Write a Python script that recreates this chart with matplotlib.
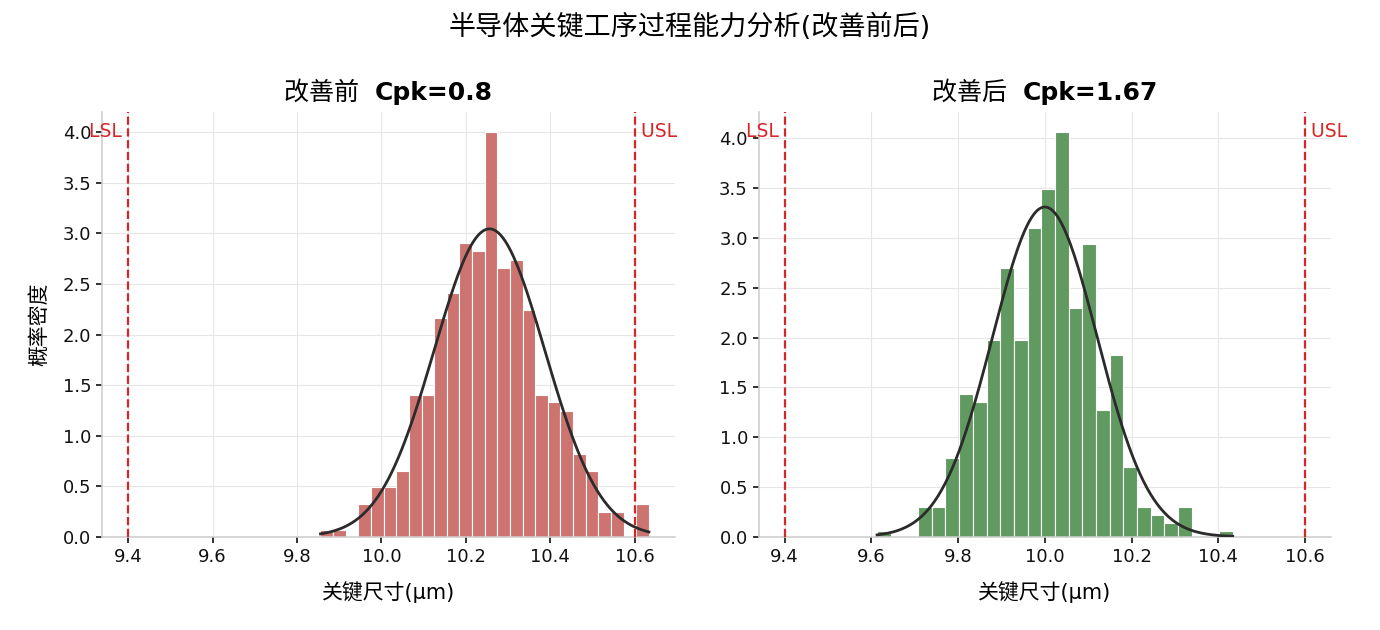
import numpy as np
import matplotlib
matplotlib.use("Agg")
import matplotlib.pyplot as plt

# Spec limits
LSL = 9.4
USL = 10.6

# Before improvement: histogram (density)
before_bin_start = 9.8555
before_bin_width = 0.02994
before_density = [0.07, 0.07, 0.00, 0.32, 0.49, 0.49, 0.65, 1.40, 1.40, 2.16,
                  2.41, 2.91, 2.83, 4.00, 2.66, 2.74, 2.24, 1.40, 1.33, 1.24,
                  0.82, 0.65, 0.24, 0.24, 0.00, 0.32]
before_mu, before_sigma = 10.256, 0.131
before_cpk = 0.8

# After improvement
after_bin_start = 9.613
after_bin_width = 0.03155
after_density = [0.06, 0.00, 0.00, 0.30, 0.30, 0.79, 1.43, 1.35, 1.98, 2.70,
                 1.98, 3.10, 3.49, 4.06, 2.30, 2.94, 1.27, 1.82, 0.70, 0.30,
                 0.22, 0.14, 0.30, 0.00, 0.00, 0.06]
after_mu, after_sigma = 10.0, 0.1205
after_cpk = 1.67

plt.rcParams.update({
    'font.family': ['DejaVu Sans', 'Noto Sans CJK SC'],
    'axes.unicode_minus': False,
    'axes.edgecolor': '#cccccc',
    'axes.linewidth': 1.1,
    'grid.color': '#e6e6e6',
    'grid.linewidth': 0.8,
    'xtick.color': '#222222',
    'ytick.color': '#222222',
    'xtick.labelcolor': '#111111',
    'ytick.labelcolor': '#111111',
    'xtick.major.size': 4.3,
    'ytick.major.size': 4.3,
    'xtick.major.width': 1.3,
    'ytick.major.width': 1.3,
    'xtick.labelsize': 13,
    'ytick.labelsize': 13,
})


def draw_panel(ax, start, width, dens, mu, sigma, cpk, label, color):
    dens = np.array(dens)
    edges = start + width * np.arange(len(dens) + 1)
    ax.bar(edges[:-1], dens, width=width, align='edge', color=color,
           edgecolor='white', linewidth=0.8, zorder=2)

    # fitted normal curve over the data range
    x = np.linspace(edges[0], edges[-1], 300)
    pdf = np.exp(-0.5 * ((x - mu) / sigma) ** 2) / (sigma * np.sqrt(2 * np.pi))
    ax.plot(x, pdf, color='#2b2b2b', lw=2.0, zorder=3)

    ax.axvline(LSL, color='#d62728', ls='--', lw=1.6, zorder=4)
    ax.axvline(USL, color='#d62728', ls='--', lw=1.6, zorder=4)

    lo = min(LSL, edges[0])
    hi = max(USL, edges[-1])
    pad = (hi - lo) * 0.05
    ax.set_xlim(lo - pad, hi + pad)
    ymax = dens.max() * 1.05
    ax.set_ylim(0, ymax)

    ax.text(LSL, ymax * 0.955, 'LSL ', color='#d62728', ha='right',
            va='center', fontsize=13.5)
    ax.text(USL, ymax * 0.955, ' USL', color='#d62728', ha='left',
            va='center', fontsize=13.5)

    ax.set_xticks([9.4, 9.6, 9.8, 10.0, 10.2, 10.4, 10.6])
    ax.set_yticks(np.arange(0, 4.01, 0.5))
    ax.yaxis.set_major_formatter(matplotlib.ticker.FormatStrFormatter('%.1f'))
    ax.grid(True, zorder=0)
    ax.set_axisbelow(True)
    for s in ('top', 'right'):
        ax.spines[s].set_visible(False)

    # title: Chinese part regular, Cpk part bold, centred together
    t1 = ax.text(0, 0, label + '  ', fontsize=18, transform=ax.transAxes)
    t2 = ax.annotate(f'Cpk={cpk}', xy=(1, 0), xycoords=t1, fontsize=18,
                     fontweight='bold', va='bottom', ha='left')
    fig = ax.figure
    fig.canvas.draw()
    r = fig.canvas.get_renderer()
    w1 = t1.get_window_extent(r).width
    w2 = t2.get_window_extent(r).width
    bb = ax.get_window_extent(r)
    x0 = bb.x0 + bb.width / 2 - (w1 + w2) / 2
    y0 = bb.y1 + 7
    t1.set_transform(matplotlib.transforms.IdentityTransform())
    t1.set_position((x0, y0))
    t1.set_va('bottom')

    ax.set_xlabel('关键尺寸(μm)', fontsize=15, labelpad=11)


fig = plt.figure(figsize=(13.8, 6.3), dpi=100)
ax1 = fig.add_axes([0.0741, 0.148, 0.415, 0.674])
ax2 = fig.add_axes([0.5498, 0.148, 0.4147, 0.674])

draw_panel(ax1, before_bin_start, before_bin_width, before_density,
           before_mu, before_sigma, before_cpk, '改善前', '#cd7470')
draw_panel(ax2, after_bin_start, after_bin_width, after_density,
           after_mu, after_sigma, after_cpk, '改善后', '#609a60')

ax1.set_ylabel('概率密度', fontsize=15, labelpad=10)

fig.suptitle('半导体关键工序过程能力分析(改善前后)', fontsize=19.5,
             y=0.978)

fig.savefig('out.png', dpi=100)
